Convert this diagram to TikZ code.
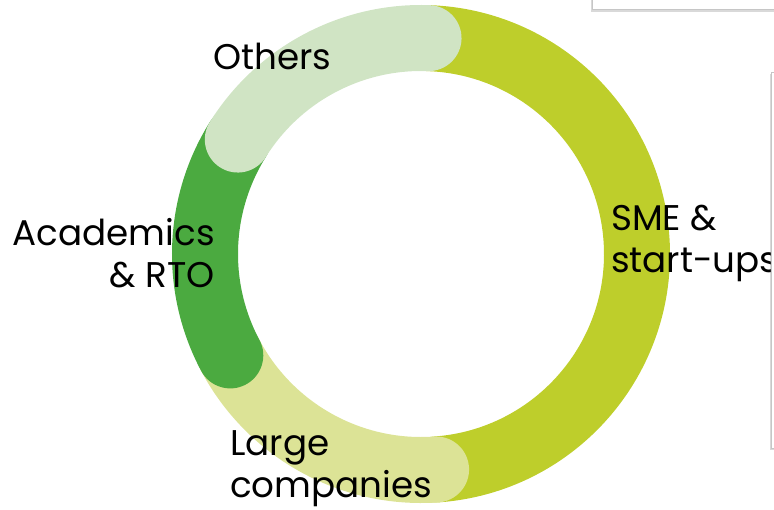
\documentclass[tikz,border=0pt]{standalone}
\usepackage{fontspec}
\setmainfont{Poppins}
\usetikzlibrary{shadows}

\definecolor{smegreen}{HTML}{BECE2B}
\definecolor{largegreen}{HTML}{DCE396}
\definecolor{acadgreen}{HTML}{4BAA40}
\definecolor{othergreen}{HTML}{D0E4C4}

\tikzset{
  seg/.style={line width=66pt, line cap=round},
  lbl/.style={font=\fontsize{35.7}{42}\selectfont, inner sep=0pt, text=black},
  panel/.style={fill=white, draw=gray!45, line width=0.8pt,
    drop shadow={shadow xshift=-1pt, shadow yshift=-2pt, opacity=0.3}},
}

\begin{document}
\begin{tikzpicture}[x=1pt, y=1pt]
  % Sizes
  \pgfmathsetmacro{\rad}{216}
  \useasboundingbox (-421,-255) rectangle (353,254);
  \clip (-421,-255) rectangle (353,254);

  % ring segments
  \draw[seg, smegreen] (-86:\rad) arc (-86:88:\rad);
  \draw[seg, largegreen] (208:\rad) arc (208:274:\rad);
  \draw[seg, acadgreen] (148:\rad) arc (148:208:\rad);
  \draw[seg, othergreen] (88:\rad) arc (88:148:\rad);

  % labels (base = last line)
  \node[lbl, anchor=base west] (others) at (-208,184) {Others};
  \node[lbl, anchor=base east, align=right] (acad) at (-206,-33) {Academics\\\& RTO};
  \node[lbl, anchor=base west, align=left] (sme) at (190,-18) {SME \&\\start-ups};
  \node[lbl, anchor=base west, align=left] (large) at (-191,-243) {Large\\companies};

  % panels at the edge
  \node[panel, minimum width=220pt, minimum height=40pt, anchor=south west] (toppanel) at (171,244) {};
  \node[panel, minimum width=60pt, minimum height=376pt, anchor=north west] (sidepanel) at (350,182) {};
\end{tikzpicture}
\end{document}
